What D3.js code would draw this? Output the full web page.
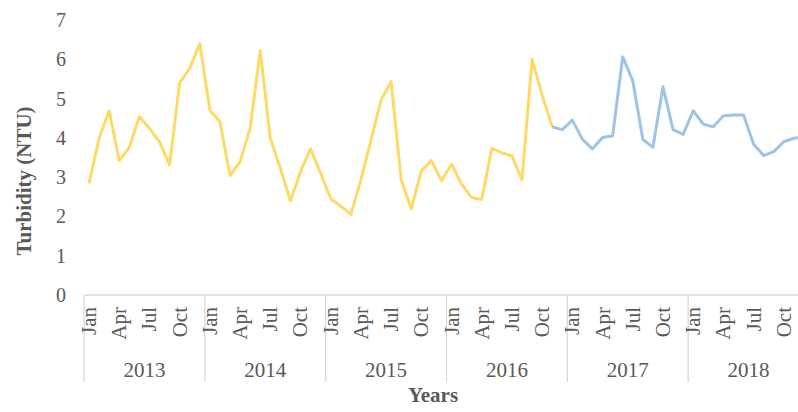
<!DOCTYPE html>
<html>
<head>
<meta charset="utf-8">
<script src="https://cdn.jsdelivr.net/npm/d3@7"></script>
<style>
  body { margin: 0; background: #fff; }
  svg { display: block; }
</style>
</head>
<body>
<svg id="chart"></svg>
<script>
const years = ['2013', '2014', '2015', '2016', '2017', '2018'];
const months = ['Jan', 'Feb', 'Mar', 'Apr', 'May', 'Jun', 'Jul', 'Aug', 'Sep', 'Oct', 'Nov', 'Dec'];
const shownMonths = ['Jan', 'Apr', 'Jul', 'Oct'];

// Jan 2013 .. Nov 2016 (measured)
const observed = [
  2.84, 3.99, 4.69, 3.42, 3.76, 4.54, 4.24, 3.90, 3.31, 5.40, 5.77, 6.40,
  4.71, 4.41, 3.04, 3.39, 4.24, 6.22, 3.99, 3.22, 2.40, 3.14, 3.72, 3.10,
  2.45, 2.26, 2.05, 2.93, 3.94, 4.96, 5.43, 2.93, 2.19, 3.16, 3.42, 2.91,
  3.33, 2.82, 2.48, 2.43, 3.73, 3.62, 3.54, 2.93, 6.00, 5.09, 4.28
];
// Nov 2016 .. Dec 2018
const predicted = [
  4.28, 4.21,
  4.45, 3.96, 3.72, 4.01, 4.05, 6.06, 5.45, 3.96, 3.76, 5.30, 4.21, 4.09,
  4.69, 4.35, 4.28, 4.56, 4.58, 4.58, 3.84, 3.55, 3.65, 3.90, 3.99, 4.02
];
const predictedStart = 46;

const width = 798, height = 412;
const margin = { top: 20, left: 84, bottom: 117 };
const plotRight = 809; // chart runs past the right edge of the picture

const svg = d3.select('#chart')
  .attr('width', width)
  .attr('height', height)
  .style('font-family', '"Liberation Serif", "Times New Roman", serif');

const keys = [];
years.forEach(y => months.forEach(m => keys.push(y + '-' + m)));

const x = d3.scaleBand().domain(keys).range([margin.left, plotRight]);
const yearX = d3.scaleBand().domain(years).range([margin.left, plotRight]);
const y = d3.scaleLinear().domain([0, 7]).range([height - margin.bottom - 0, margin.top]);
const y0 = y(0);

const cx = i => x(keys[i]) + x.bandwidth() / 2;

// y tick labels
svg.append('g')
  .selectAll('text')
  .data(d3.range(0, 8))
  .enter()
  .append('text')
  .attr('x', 66)
  .attr('y', d => y(d))
  .attr('dy', '0.35em')
  .attr('text-anchor', 'end')
  .style('font-size', '20px')
  .style('fill', '#595959')
  .text(d => d);

// x axis frame
const axisColor = '#d9d9d9';
svg.append('line')
  .attr('x1', margin.left).attr('x2', plotRight)
  .attr('y1', y0).attr('y2', y0)
  .attr('stroke', axisColor).attr('stroke-width', 1.3);

svg.append('g')
  .selectAll('line')
  .data(years.concat(['end']))
  .enter()
  .append('line')
  .attr('x1', d => d === 'end' ? plotRight : yearX(d))
  .attr('x2', d => d === 'end' ? plotRight : yearX(d))
  .attr('y1', y0)
  .attr('y2', y0 + 87)
  .attr('stroke', axisColor).attr('stroke-width', 1.3);

// month labels
const monthKeys = keys.filter(k => shownMonths.includes(k.split('-')[1]));
svg.append('g')
  .selectAll('text')
  .data(monthKeys)
  .enter()
  .append('text')
  .attr('transform', d => `translate(${x(d) + x.bandwidth() / 2 + 7},${y0 + 12}) rotate(-90)`)
  .attr('text-anchor', 'end')
  .style('font-size', '21px')
  .style('fill', '#595959')
  .text(d => d.split('-')[1]);

// year labels
svg.append('g')
  .selectAll('text')
  .data(years)
  .enter()
  .append('text')
  .attr('x', d => yearX(d) + yearX.bandwidth() / 2)
  .attr('y', y0 + 82)
  .attr('text-anchor', 'middle')
  .style('font-size', '21px')
  .style('fill', '#595959')
  .text(d => d);

// axis titles
svg.append('text')
  .attr('transform', `translate(31,181) rotate(-90)`)
  .attr('text-anchor', 'middle')
  .style('font-size', '21px')
  .style('font-weight', 'bold')
  .style('fill', '#595959')
  .text('Turbidity (NTU)');

svg.append('text')
  .attr('x', 433)
  .attr('y', 402)
  .attr('text-anchor', 'middle')
  .style('font-size', '21px')
  .style('font-weight', 'bold')
  .style('fill', '#595959')
  .text('Years');

// lines
const line = d3.line()
  .x(d => cx(d.i))
  .y(d => y(d.v));

svg.append('path')
  .datum(observed.map((v, i) => ({ i, v })))
  .attr('fill', 'none')
  .attr('stroke', '#ffd966')
  .attr('stroke-width', 3)
  .attr('stroke-linejoin', 'round')
  .attr('d', line);

svg.append('path')
  .datum(predicted.map((v, i) => ({ i: i + predictedStart, v })))
  .attr('fill', 'none')
  .attr('stroke', '#9dc3e6')
  .attr('stroke-width', 3)
  .attr('stroke-linejoin', 'round')
  .attr('d', line);
</script>
</body>
</html>
